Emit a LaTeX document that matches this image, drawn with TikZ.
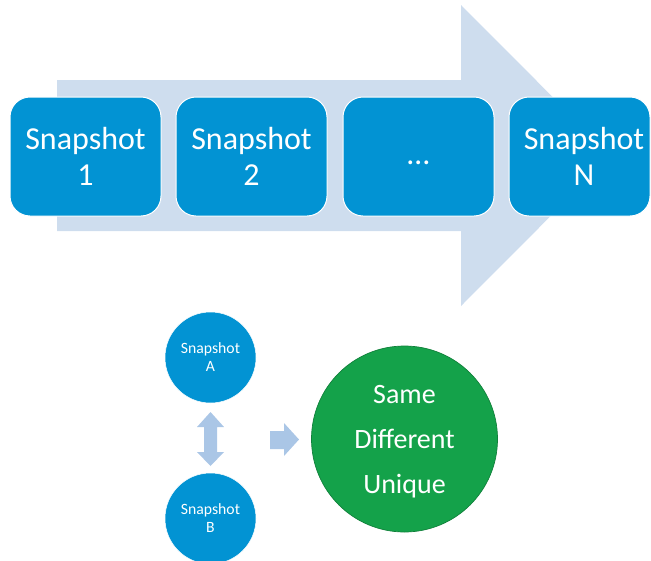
\documentclass[tikz,border=0pt]{standalone}
\usepackage{fontspec}
\setmainfont{Carlito}
\definecolor{boxblue}{RGB}{2,147,211}
\definecolor{bigarrow}{RGB}{206,221,238}
\definecolor{smallarrow}{RGB}{170,198,230}
\definecolor{greenfill}{RGB}{20,162,74}
\definecolor{greenline}{RGB}{16,128,58}
\begin{document}
\begin{tikzpicture}[x=1pt,y=-1pt,
  snapbox/.style={rectangle, rounded corners=20pt, fill=boxblue, draw=white, line width=1pt,
    minimum height=119pt, text=white, align=center, inner sep=0pt,
    font=\fontsize{32}{36}\selectfont},
  snaptext/.style={text=white, align=center, inner sep=0pt, font=\fontsize{32}{36}\selectfont},
  smallcirc/.style={circle, fill=boxblue, draw=white, line width=0.5pt, minimum size=91pt,
    inner sep=0pt, text=white, align=center, font=\fontsize{15.7}{18}\selectfont},
  bigcirc/.style={circle, fill=greenfill, draw=greenline, line width=0.7pt, minimum size=186pt,
    inner sep=0pt},
  bigtext/.style={text=white, align=center, inner sep=0pt, font=\fontsize{28}{45}\selectfont},
  blockarrow/.style={fill=smallarrow, draw=none}]
\useasboundingbox (0,0) rectangle (651,560);
% big background arrow
\coordinate (a1) at (57,80);
\coordinate (a2) at (461,80);
\coordinate (a3) at (461,5);
\coordinate (a4) at (611,155.5);
\coordinate (a5) at (461,306);
\coordinate (a6) at (461,231);
\coordinate (a7) at (57,231);
\fill[bigarrow] (a1) -- (a2) -- (a3) -- (a4) -- (a5) -- (a6) -- (a7) -- cycle;
% boxes
\node[snapbox, minimum width=151pt] (s1) at (85.5,156.5) {Snapshot\\1};
\node[snapbox, minimum width=151pt] (s2) at (251.5,156.5) {Snapshot\\2};
\node[snapbox, minimum width=151pt] (s3) at (418.5,156.5) {};
\node[snaptext] (s3t) at (418.5,163) {\ldots};
\node[snapbox, minimum width=141pt] (sN) at (579.5,156.5) {};
\node[snaptext] (sNt) at (584,156.5) {Snapshot\\N};
% bottom part
\node[smallcirc] (A) at (210.5,357.5) {Snapshot\\A};
\node[smallcirc] (B) at (210.5,518.5) {Snapshot\\B};
\node[bigcirc] (R) at (404.5,439) {};
\node[bigtext] (Rt) at (404.5,441.5) {Same\\Different\\Unique};
% double arrow
\fill[blockarrow] (210.5,412) -- (224,427) -- (217,427) -- (217,452) -- (224,452)
  -- (210.5,466) -- (197,452) -- (204,452) -- (204,427) -- (197,427) -- cycle;
% right arrow
\fill[blockarrow] (270,431) -- (284,431) -- (284,423) -- (299,439.5) -- (284,456)
  -- (284,449) -- (270,449) -- cycle;
\end{tikzpicture}
\end{document}
